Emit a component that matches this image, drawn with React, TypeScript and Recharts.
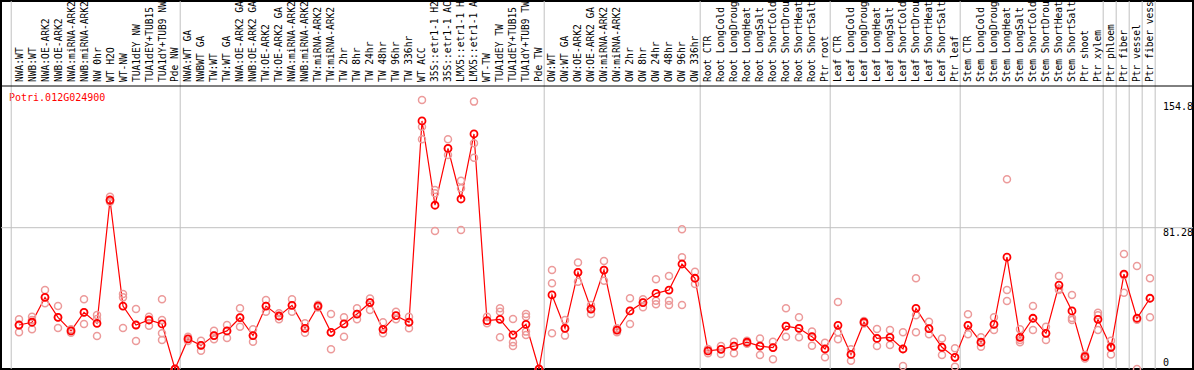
import React from 'react';
import { ComposedChart, Line, Scatter, XAxis, YAxis, ReferenceLine, ReferenceArea } from 'recharts';

const geneId = 'Potri.012G024900';

const categories = [
  'NWA:WT', 'NWB:WT', 'NWA:OE-ARK2', 'NWB:OE-ARK2', 'NWA:miRNA-ARK2', 'NWB:miRNA-ARK2', 'NW 0hr', 'WT H2O', 'WT-NW',
  'TUA1dEY NW', 'TUA1dEY+TUB15', 'TUA1dY+TUB9 NW', 'Pde NW',
  'NWA:WT GA', 'NWBWT GA', 'TW:WT', 'TW:WT GA', 'NWA:OE-ARK2 GA', 'NWB:OE-ARK2 GA', 'TW:OE-ARK2', 'TW:OE-ARK2 GA',
  'NWA:miRNA-ARK2', 'NWB:miRNA-ARK2', 'TW:miRNA-ARK2', 'TW:miRNA-ARK2', 'TW 2hr', 'TW 8hr', 'TW 24hr', 'TW 48hr',
  'TW 96hr', 'TW 336hr', 'WT ACC', '35S::etr1-1 H2', '35S::etr1-1 AC', 'LMX5::etr1-1 H', 'LMX5::etr1-1 A', 'WT-TW',
  'TUA1dEY TW', 'TUA1dEY+TUB15', 'TUA1dY+TUB9 TW', 'Pde TW',
  'OW:WT', 'OW:WT GA', 'OW:OE-ARK2', 'OW:OE-ARK2 GA', 'OW:miRNA-ARK2', 'OW:miRNA-ARK2', 'OW 2hr', 'OW 8hr', 'OW 24hr',
  'OW 48hr', 'OW 96hr', 'OW 336hr',
  'Root CTR', 'Root LongCold', 'Root LongDroug', 'Root LongHeat', 'Root LongSalt', 'Root ShortCold', 'Root ShortDrou',
  'Root ShortHeat', 'Root ShortSalt', 'Ptr root',
  'Leaf CTR', 'Leaf LongCold', 'Leaf LongDroug', 'Leaf LongHeat', 'Leaf LongSalt', 'Leaf ShortCold', 'Leaf ShortDrou',
  'Leaf ShortHeat', 'Leaf ShortSalt', 'Ptr leaf',
  'Stem CTR', 'Stem LongCold', 'Stem LongDroug', 'Stem LongHeat', 'Stem LongSalt', 'Stem ShortCold', 'Stem ShortDrou',
  'Stem ShortHeat', 'Stem ShortSalt', 'Ptr shoot', 'Ptr xylem', 'Ptr phloem', 'Ptr fiber', 'Ptr vessel', 'Ptr fiber vess',
];

const means = [
  25.3, 26.9, 41.2, 29.7, 21.9, 32.6, 26.3, 97.2, 36.2, 25.3, 28.2, 25.9, 0,
  17.3, 13.6, 19.2, 21.9, 29.5, 19.2, 36.2, 30.5, 36.6, 23.4, 36.2, 21.1, 25.9, 31.6, 38.2, 22.8, 30.7, 26.9,
  142.7, 94.2, 126.9, 97.8, 135.2, 27.8, 28.6, 19.6, 25.7, 0,
  42.6, 23.4, 55.6, 34.5, 56.9, 22.4, 33.4, 38.2, 43.5, 45.4, 60.4, 52.2,
  10.4, 11.3, 13.2, 15.4, 13.2, 12.3, 24.7, 23.4, 18.6, 11.5,
  25.1, 8.4, 26.9, 17.6, 18.2, 11.5, 34.9, 23.2, 12.5, 6.7,
  25.1, 15.4, 25.7, 64.3, 18.2, 29.2, 20.5, 48.3, 33.4, 7.1, 28.6, 12.5, 54.6, 29.2, 40.7,
];

const replicates = [
  [28.6, 25.3, 21.1], [30.1, 28.2, 22.8], [45.4, 41.2, 37.8], [36.2, 29.7, 23.6], [22.8, 21.9, 20.9],
  [40.1, 32.6, 25.9], [31.1, 28.8, 19.0], [99.1, 97.2, 96.2], [43.1, 41.2, 23.6], [34.5, 25.3, 16.1],
  [30.1, 28.2, 24.9], [40.1, 28.2, 20.5, 16.7], [0, 0, 0],
  [18.6, 17.3, 16.1], [16.3, 13.6, 10.5], [22.0, 19.2, 17.1], [25.3, 21.9, 17.8], [34.9, 29.5, 24.3],
  [22.8, 19.2, 15.7], [39.7, 36.2, 33.0], [32.0, 30.5, 28.6], [40.1, 36.6, 33.0], [26.3, 23.4, 20.9],
  [37.0, 36.2, 35.4], [31.6, 21.1, 11.3], [29.7, 25.9, 18.6], [34.9, 31.6, 28.6], [40.5, 38.2, 33.9],
  [26.9, 22.8, 20.5], [33.0, 30.7, 28.6], [30.1, 26.9, 23.4],
  [154.8, 139.4, 132.1], [103.0, 101.1, 79.4], [132.1, 126.9, 123.1], [108.3, 104.0, 80.0], [153.8, 129.8, 121.5],
  [30.1, 27.8, 26.3], [34.9, 33.0, 18.2], [28.8, 15.4, 13.2], [31.6, 30.1, 21.5, 19.6], [0, 0, 0],
  [56.9, 49.3, 20.5], [28.2, 23.4, 19.2], [61.2, 55.6, 50.2], [36.8, 34.5, 31.6], [62.1, 56.9, 50.8],
  [23.4, 22.4, 21.1], [40.7, 33.4, 25.9], [40.1, 38.2, 35.5], [51.6, 39.3, 37.2], [53.5, 39.3, 36.8],
  [80.4, 64.3, 36.8], [56.0, 52.2, 48.9],
  [11.5, 10.4, 9.0], [13.2, 11.3, 8.6], [15.7, 13.2, 9.0], [16.3, 15.4, 14.5], [17.6, 13.2, 8.1],
  [15.7, 12.3, 5.6], [34.9, 24.7, 18.6], [29.7, 23.4, 18.2], [21.5, 18.6, 13.4], [15.1, 11.5, 6.7],
  [38.5, 21.1, 17.1], [11.3, 8.4, 4.8], [27.6, 26.9, 26.2], [23.0, 17.6, 13.2], [22.4, 18.2, 13.8],
  [21.1, 11.5, 1.7], [52.2, 30.9, 21.1], [27.2, 23.2, 20.0], [17.6, 12.5, 8.1], [11.9, 6.7, 1.3],
  [31.5, 25.1, 20.0], [18.2, 15.4, 12.8], [29.7, 25.7, 22.4], [109.1, 45.4, 39.1], [22.8, 16.7, 15.4],
  [36.2, 29.2, 22.4], [24.3, 20.5, 16.7], [53.5, 46.0, 45.4], [42.6, 29.4, 28.2], [8.1, 7.1, 6.1],
  [32.4, 30.9, 22.4], [16.3, 12.9, 8.4], [66.1, 54.0, 43.9], [59.2, 28.4, 0], [52.2, 40.7, 29.7],
];

// indices after which a vertical separator is drawn (-1 = before first)
const groupBreaks = [-1, 12, 40, 52, 62, 72, 83, 84, 85, 86, 87];
const yTicks = [0, 81.28, 154.8];

const W = 1194;
const H = 370;
const X_MIN = -1.385;
const X_MAX = 90.31;
const Y_MAX = 211.68;
const HEADER_VALUE = 162.78;
const FONT = '"DejaVu Sans Mono", monospace';

const lineData = categories.map((c, i) => ({ idx: i, mean: means[i] }));
const repData = replicates.flatMap((r, i) => r.map((v) => ({ idx: i, value: v })));
const tickIdx = categories.map((c, i) => i);

const renderHeaderTick = (props: any) => {
  const { x, payload, index } = props;
  const label = categories[payload.value];
  if (label === undefined) return <g key={`h${index}`} />;
  const bx = x + 3.5;
  const by = 82;
  return (
    <text
      key={`h${index}`}
      x={bx}
      y={by}
      transform={`rotate(-90 ${bx} ${by})`}
      fontFamily={FONT}
      fontSize={9.6}
      fill="#000"
      textAnchor="start"
    >
      {label}
    </text>
  );
};

const renderYTick = (props: any) => {
  const { y, payload, index } = props;
  const v = payload.value;
  const dy = v === 0 ? -3 : v === 154.8 ? 10.5 : 8;
  return (
    <text key={`y${index}`} x={1163} y={y + dy} fontFamily={FONT} fontSize={10} fill="#000" textAnchor="start">
      {String(v)}
    </text>
  );
};

const RepDot = (props: any) => (
  <circle cx={props.cx} cy={props.cy} r={3.5} fill="none" stroke="#ec9a9a" strokeWidth={1.5} />
);

const renderMeanDot = (props: any) => (
  <circle key={`m${props.index}`} cx={props.cx} cy={props.cy} r={3.5} fill="none" stroke="#ff0000" strokeWidth={1.8} />
);

export default function App() {
  return (
    <div style={{ width: W, height: H }}>
      <style>{'body{margin:0}'}</style>
      <ComposedChart width={W} height={H} data={lineData} margin={{ top: 0, right: 0, bottom: 1, left: 1 }}>
        <XAxis
          dataKey="idx"
          type="number"
          domain={[X_MIN, X_MAX]}
          orientation="top"
          height={1}
          ticks={tickIdx}
          interval={0}
          axisLine={false}
          tickLine={false}
          tick={renderHeaderTick}
        />
        <YAxis
          type="number"
          domain={[0, Y_MAX]}
          orientation="right"
          width={1}
          ticks={yTicks}
          interval={0}
          axisLine={false}
          tickLine={false}
          tick={renderYTick}
        />
        {groupBreaks.map((b) => (
          <ReferenceLine key={`g${b}`} x={b + 0.4} stroke="#c0c0c0" strokeWidth={1} />
        ))}
        <ReferenceLine y={81.28} stroke="#c0c0c0" strokeWidth={1} />
        <ReferenceLine y={HEADER_VALUE} stroke="#000" strokeWidth={1} />
        <Scatter data={repData} dataKey="value" shape={<RepDot />} isAnimationActive={false} />
        <Line
          dataKey="mean"
          stroke="#ff0000"
          strokeWidth={1.2}
          dot={renderMeanDot}
          activeDot={false}
          isAnimationActive={false}
        />
        <ReferenceArea x1={X_MIN} x2={X_MAX} y1={0} y2={Y_MAX} fill="none" stroke="#000" strokeWidth={2} />
        <text x={9} y={101} fontFamily={FONT} fontSize={10} fill="#ff0000">
          {geneId}
        </text>
      </ComposedChart>
    </div>
  );
}
